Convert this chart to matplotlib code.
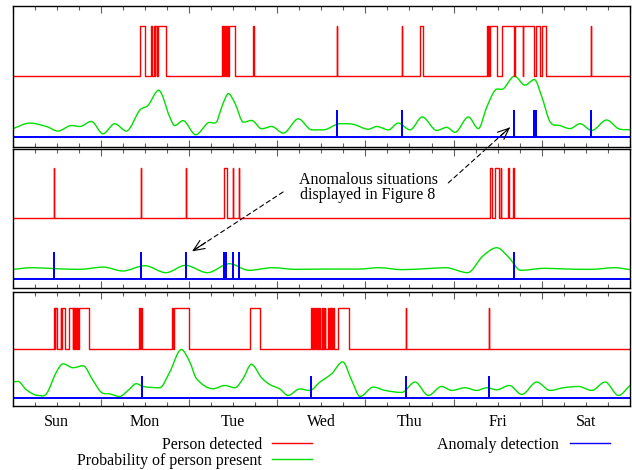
import numpy as np
import matplotlib.pyplot as plt
from matplotlib.lines import Line2D
from matplotlib.path import Path
from matplotlib.patches import PathPatch

plt.rcParams['font.family'] = ['Liberation Serif', 'DejaVu Serif']
plt.rcParams['font.size'] = 11.5

## Data (time in days from Sunday 00:00) ##
days = ['Sun', 'Mon', 'Tue', 'Wed', 'Thu', 'Fri', 'Sat']

# panel 1
det1 = [(1.440, 1.497), (1.567, 1.582), (1.599, 1.610), (1.621, 1.633), (1.644, 1.740),
        (2.372, 2.390), (2.400, 2.409), (2.419, 2.429), (2.438, 2.447), (2.457, 2.523),
        (2.730, 2.734), (3.674, 3.678), (4.411, 4.415), (4.620, 4.651),
        (5.376, 5.385), (5.392, 5.400), (5.410, 5.489), (5.553, 5.686), (5.697, 5.782),
        (5.787, 5.913), (5.932, 5.981), (6.000, 6.045), (6.553, 6.557)]
prob1_t = [0.0, 0.195, 0.384, 0.516, 0.667, 0.762, 0.894, 1.026, 1.158, 1.291, 1.442,
           1.537, 1.657, 1.782, 1.838, 1.933, 2.077, 2.217, 2.311, 2.353, 2.387, 2.447,
           2.523, 2.617, 2.712, 2.825, 2.938, 3.070, 3.241, 3.392, 3.524, 3.713, 3.864,
           4.035, 4.129, 4.261, 4.374, 4.507, 4.645, 4.809, 4.922, 5.017, 5.168, 5.281,
           5.376, 5.470, 5.565, 5.690, 5.810, 5.916, 6.000, 6.094, 6.207, 6.320, 6.434,
           6.566, 6.736, 6.868, 7.0]
prob1_v = [0.137, 0.230, 0.175, 0.100, 0.190, 0.175, 0.257, 0.055, 0.220, 0.100, 0.440,
           0.520, 0.765, 0.330, 0.190, 0.270, 0.040, 0.235, 0.245, 0.410, 0.550, 0.710,
           0.550, 0.246, 0.273, 0.137, 0.175, 0.066, 0.300, 0.120, 0.120, 0.220, 0.210,
           0.130, 0.175, 0.120, 0.230, 0.120, 0.330, 0.110, 0.160, 0.080, 0.330, 0.140,
           0.490, 0.765, 0.790, 0.995, 0.850, 0.940, 0.660, 0.250, 0.190, 0.140, 0.220,
           0.110, 0.280, 0.140, 0.120]
anom1 = [3.676, 4.412, 5.690, 5.915, 5.932, 6.555]

# panel 2
det2 = [(0.468, 0.472), (1.452, 1.456), (1.965, 1.969), (2.400, 2.430), (2.495, 2.499),
        (2.569, 2.573), (5.414, 5.437), (5.474, 5.519), (5.533, 5.537), (5.619, 5.623),
        (5.676, 5.680)]
prob2_t = [0.0, 0.223, 0.49, 0.76, 1.03, 1.25, 1.50, 1.74, 1.96, 2.21, 2.46, 2.68, 2.95,
           3.21, 3.57, 3.93, 4.15, 4.42, 4.69, 4.91, 5.16, 5.33, 5.49, 5.63, 5.76, 6.03,
           6.29, 6.56, 6.83, 7.0]
prob2_v = [0.153, 0.180, 0.164, 0.153, 0.190, 0.126, 0.213, 0.098, 0.219, 0.098, 0.246,
           0.137, 0.180, 0.153, 0.158, 0.158, 0.180, 0.148, 0.164, 0.180, 0.098, 0.370,
           0.510, 0.344, 0.137, 0.170, 0.158, 0.153, 0.180, 0.148]
anom2 = [0.470, 1.454, 1.967, 2.402, 2.410, 2.418, 2.497, 2.571, 5.683]

# panel 3
det3 = [(0.467, 0.480), (0.486, 0.505), (0.546, 0.553), (0.561, 0.592), (0.637, 0.686),
        (0.690, 0.694), (0.700, 0.704), (0.710, 0.714), (0.722, 0.726), (0.734, 0.738),
        (0.750, 0.867), (1.434, 1.445), (1.452, 1.469), (1.812, 1.818), (1.826, 1.998),
        (2.689, 2.802), (3.380, 3.392), (3.405, 3.410), (3.422, 3.428), (3.440, 3.452),
        (3.462, 3.468), (3.478, 3.490), (3.505, 3.512), (3.522, 3.530), (3.540, 3.546),
        (3.580, 3.590), (3.600, 3.606), (3.614, 3.622), (3.630, 3.640), (3.685, 3.820),
        (4.459, 4.463), (5.401, 5.405)]
prob3_t = [0.0, 0.063, 0.157, 0.290, 0.384, 0.497, 0.573, 0.686, 0.800, 0.913, 1.007,
           1.102, 1.215, 1.310, 1.404, 1.480, 1.669, 1.782, 1.914, 2.009, 2.085, 2.274,
           2.406, 2.520, 2.614, 2.708, 2.822, 2.916, 3.030, 3.124, 3.256, 3.370, 3.486,
           3.619, 3.743, 3.845, 3.940, 4.091, 4.223, 4.412, 4.563, 4.714, 4.865, 4.979,
           5.130, 5.263, 5.376, 5.489, 5.633, 5.773, 5.943, 6.094, 6.245, 6.416, 6.567,
           6.718, 6.869, 7.0]
prob3_v = [0.320, 0.333, 0.163, 0.048, 0.080, 0.520, 0.690, 0.610, 0.650, 0.350, 0.110,
           0.080, 0.027, 0.150, 0.286, 0.230, 0.204, 0.520, 0.980, 0.730, 0.390, 0.184,
           0.250, 0.204, 0.390, 0.680, 0.410, 0.270, 0.180, 0.048, 0.180, 0.150, 0.320,
           0.490, 0.730, 0.354, 0.027, 0.218, 0.150, 0.109, 0.320, 0.048, 0.230, 0.150,
           0.204, 0.150, 0.204, 0.163, 0.250, 0.068, 0.320, 0.150, 0.204, 0.230, 0.150,
           0.320, 0.048, 0.250]
anom3 = [1.469, 3.380, 4.461, 5.403]

## Display levels ##
det_lo, det_hi = 1.0, 1.82
anom_h = 0.42
t_end = 7.0

def det_steps(intervals):
  x = [0.0]; y = [det_lo]
  for a, b in intervals:
    x += [a, a, b, b]; y += [det_lo, det_hi, det_hi, det_lo]
  x.append(t_end); y.append(det_lo)
  return x, y

def anom_steps(spikes):
  x = [0.0]; y = [0.0]
  for s in spikes:
    x += [s, s, s]; y += [0.0, anom_h, 0.0]
  x.append(t_end); y.append(0.0)
  return x, y

def smooth_path(t, v):
  # cubic Hermite curve through the read points (flat tangent at extrema)
  t = np.asarray(t); v = np.asarray(v); n = len(t)
  m = np.zeros(n)
  for i in range(1, n-1):
    if (v[i]-v[i-1])*(v[i+1]-v[i]) > 0:
      m[i] = (v[i+1]-v[i-1])/(t[i+1]-t[i-1])
  m[0] = (v[1]-v[0])/(t[1]-t[0]); m[-1] = (v[-1]-v[-2])/(t[-1]-t[-2])
  verts = [(t[0], v[0])]; codes = [Path.MOVETO]
  for i in range(n-1):
    h = t[i+1]-t[i]
    verts += [(t[i]+h/3, v[i]+m[i]*h/3), (t[i+1]-h/3, v[i+1]-m[i+1]*h/3), (t[i+1], v[i+1])]
    codes += [Path.CURVE4]*3
  return Path(verts, codes)

## Figure ##
fig = plt.figure(figsize=(6.32, 4.70), dpi=100)
L, W = 12.5/632, 617.5/632
ax1 = fig.add_axes([L, 1-147/470, W, 141/470])
ax2 = fig.add_axes([L, 1-288.3/470, W, 139.3/470])
ax3 = fig.add_axes([L, 1-405.7/470, W, 113.4/470])

red, green, blue = '#ff0000', '#00e000', '#0000ff'
panels = [(ax1, det1, prob1_t, prob1_v, anom1),
          (ax2, det2, prob2_t, prob2_v, anom2),
          (ax3, det3, prob3_t, prob3_v, anom3)]
for ax, det, pt, pv, an in panels:
  dx, dy = det_steps(det)
  ax.plot(dx, dy, color=red, lw=1.0)
  ax.add_patch(PathPatch(smooth_path(pt, pv), fill=False, edgecolor=green, lw=1.0))
  ax_, ay = anom_steps(an)
  ax.plot(ax_, ay, color=blue, lw=1.4)
  ax.set_xlim(0, t_end)
  ax.set_ylim(-0.16, 2.14)
  ax.set_yticks([])
  ax.set_xticks(range(8))
  ax.set_xticks(np.arange(0, 7.01, 0.25), minor=True)
  ax.tick_params(which='both', direction='in', top=True, bottom=True,
                 labelbottom=False, color='#606060', width=0.8)
  ax.tick_params(which='major', length=5)
  ax.tick_params(which='minor', length=3)
  for sp in ax.spines.values():
    sp.set_linewidth(1.0)

for i, d in enumerate(days):
  ax3.text(i + 0.5, -0.14, d, transform=ax3.get_xaxis_transform(), ha='center', va='center')

## Annotation ##
ax2.text(4.03, 1.50, 'Anomalous situations\ndisplayed in Figure 8', ha='center', va='center',
         linespacing=0.95)
arrows = [((4.94, 1.58), ax1, (5.64, 0.16)), ((3.067, 1.43), ax2, (2.035, 0.45))]
for tail, hax, head in arrows:
  p_tail = ax2.transData.transform(tail)
  p_head = hax.transData.transform(head)
  ax2.annotate('', xy=p_head, xycoords='figure pixels', xytext=p_tail, textcoords='figure pixels',
               arrowprops=dict(arrowstyle='-', ls=(0, (4, 3)), lw=0.8, color='black',
                               shrinkA=0, shrinkB=0), annotation_clip=False)
  p_mid = p_head - 0.15*(p_head - p_tail)
  ax2.annotate('', xy=p_head, xycoords='figure pixels', xytext=p_mid, textcoords='figure pixels',
               arrowprops=dict(arrowstyle='->,head_length=0.7,head_width=0.3', lw=0.8,
                               color='black', shrinkA=0, shrinkB=0), annotation_clip=False)

## Legend ##
handles = [Line2D([], [], color=red, lw=1.0), Line2D([], [], color=green, lw=1.0),
           Line2D([], [], color=blue, lw=1.0)]
labels = ['Person detected', 'Probability of person present', 'Anomaly detection']
fig.legend(handles, labels, ncol=2, markerfirst=False, frameon=False, loc='upper left',
           bbox_to_anchor=(77/632, 1-437/470), handlelength=2.5, handletextpad=0.65,
           columnspacing=7.85, labelspacing=0.0, borderpad=0, borderaxespad=0)

fig.savefig('out.png', dpi=100)
